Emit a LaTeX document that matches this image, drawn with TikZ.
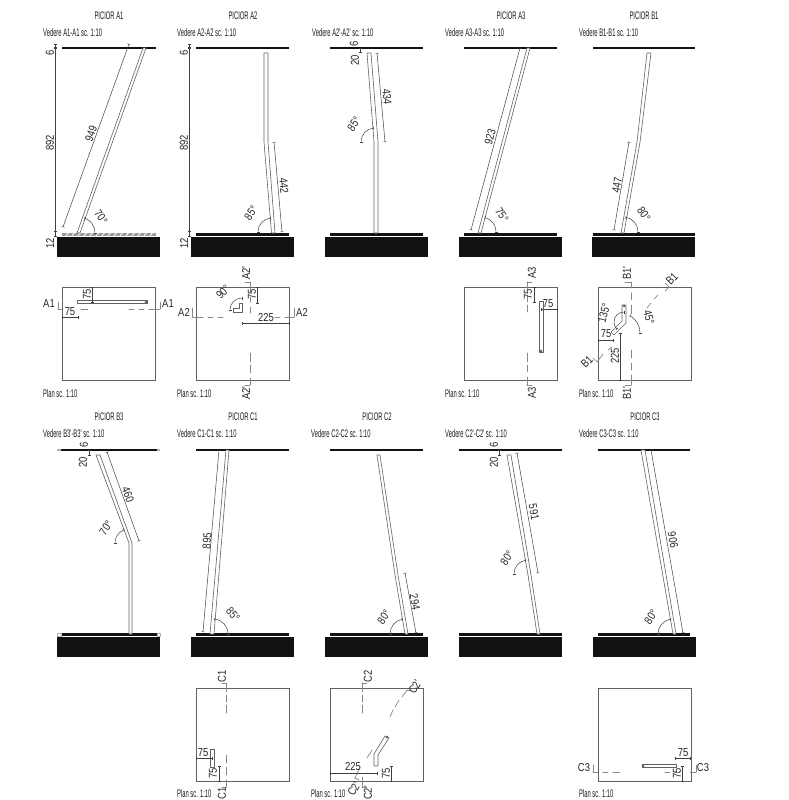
\documentclass[tikz,border=0pt]{standalone}
\usepackage{fontspec}
\setmainfont{Liberation Sans}
\newfontfamily\ingust[FakeStretch=0.53]{Liberation Sans}
\newfontfamily\cifre[FakeStretch=0.82]{Liberation Sans}
\definecolor{linie}{gray}{0.38}
\definecolor{cota}{gray}{0.25}
\usetikzlibrary{arrows.meta}
\begin{document}
\begin{tikzpicture}[x=1pt,y=-1pt,
		picior/.style={draw=linie,fill=white,line width=0.6pt,line join=round},
		cotare/.style={draw=cota,line width=0.5pt,{Bar[width=3pt,length=0pt]}-{Bar[width=3pt,length=0pt]}},
		unghi/.style={draw=cota,line width=0.5pt,{Bar[width=3pt,length=0pt]}-{Bar[width=3pt,length=0pt]}},
		semn/.style={draw=linie!75,line width=0.7pt},
		plan/.style={draw=linie,line width=0.8pt},
		cifra/.style={inner sep=0pt,font=\fontsize{11.5}{12}\selectfont\cifre,text=black!85},
		titlu/.style={inner sep=0pt,font=\fontsize{11}{12}\selectfont\ingust,text=black!90},
		vedere/.style={inner sep=0pt,anchor=west,font=\fontsize{11}{12}\selectfont\ingust,text=black!90},
	]
	\tikzset{soclu/.pic={
			\fill[black!93](0,0)rectangle(103,20);
	}}
	\useasboundingbox(0,0)rectangle(788,800);
	% soclu si bare
	\foreach \x/\y in{57/236.5,191/236.5,325/236.5,459/236.5,592/236.5,57/637,191/637,325/637,459/637,593/637}
	\path(\x,\y)pic{soclu};
	\foreach \x/\y/\l in{196/232.6/93,330/232.6/93,464/232.6/93,593/232.6/102,61/633.4/96,196/633.4/93,330/633.4/93,459/633.4/103,598/633.4/92}
	\fill[black!93](\x,\y)rectangle++(\l,2.9);
	\foreach \x/\y/\l in{62/47/94,196/47/93,330/47/93,464/47/93,593/47/102,61/449/96,196/449/93,330/449/93,459/449/103,598/449/92}
	\fill[black!93](\x,\y)rectangle++(\l,2.2);
	\fill[gray!60](57,449)rectangle(61,451)(157,449)rectangle(160,451);
	\fill[white,draw=gray!60](57,633)rectangle(61,636)(157,633)rectangle(160,636);
	% placa hasurata
	\fill[gray!80](62,232.6)rectangle(156,235.6);
	\foreach \x in{66,72,...,154}
	\draw[white,line width=0.9pt](\x,235.6)--++(3,-3);
	% titluri
	\foreach \x/\y/\txt in{109/16/PICIOR A1,243/16/PICIOR A2,511/16/PICIOR A3,644/16/PICIOR B1,109/417/PICIOR B3,243/417/PICIOR C1,377/417/PICIOR C2,645/417/PICIOR C3}
	\node[titlu] at(\x,\y){\txt};
	\foreach \x/\y/\txt in{43/33/Vedere A1-A1 sc. 1:10,177/33/Vedere A2-A2 sc. 1:10,312/33/Vedere A2'-A2' sc. 1:10,445/33/Vedere A3-A3 sc. 1:10,579/33/Vedere B1-B1 sc. 1:10,
		43/434/Vedere B3'-B3' sc. 1:10,177/434/Vedere C1-C1 sc. 1:10,311/434/Vedere C2-C2 sc. 1:10,445/434/Vedere C2'-C2' sc. 1:10,579/434/Vedere C3-C3 sc. 1:10,
		43/394/Plan sc. 1:10,177/394/Plan sc. 1:10,445/394/Plan sc. 1:10,579/394/Plan sc. 1:10,177/794/Plan sc. 1:10,311/794/Plan sc. 1:10,579/794/Plan sc. 1:10}
	\node[vedere] at(\x,\y){\txt};
	% picioare, vedere
	\draw[picior](77,233)--(143,48)--(146,48)--(80,233)--cycle;
	\draw[picior](264,53)--(268,53)--(268,142)--(275,233)--(271.5,233)--(264,142)--cycle;
	\draw[picior](367,53)--(371,53)--(378,142)--(378,233)--(374,233)--(374,142)--cycle;
	\draw[picior](478,233)--(527,48)--(530,48)--(481,233)--cycle;
	\draw[picior](647,53)--(651,53)--(640,142)--(624,233)--(621,233)--(637,142)--cycle;
	\draw[picior](96,455)--(100,455)--(132,543)--(132,634)--(129,634)--(129,543)--cycle;
	\draw[picior](210,634)--(226,450)--(229,450)--(214,634)--cycle;
	\draw[picior](377,455)--(380,455)--(398,575)--(408,634)--(405,634)--(395,575)--cycle;
	\draw[picior](507,455)--(511,455)--(531,575)--(540,634)--(537,634)--(528,575)--cycle;
	\draw[picior](641,450)--(645,450)--(676,634)--(673,634)--cycle;
	% cote, vedere
	\draw[cotare](63,227)--(129,44);
	\draw[cotare](274,142)--(282,232);
	\draw[cotare](377,53)--(385,142);
	\draw[cotare](471,230)--(520,48);
	\draw[cotare](614,230)--(629,142);
	\draw[cotare](107,452)--(139,541);
	\draw[cotare](203,632)--(219,450);
	\draw[cotare](405,573)--(416,633);
	\draw[cotare](517,453)--(538,573);
	\draw[cotare](651,450)--(683,633);
	\foreach \x in{55,189}{
		\draw[cotare](\x,44)--(\x,48);
		\draw[cotare](\x,48)--(\x,231);
		\draw[cotare](\x,231)--(\x,236);
	}
	\foreach \x/\y in{360/48,89/450,499/450}
	\draw[cotare](\x,\y)--++(0,5);
	% unghiuri
	\draw[unghi](95,233)arc(0:-70:16);
	\draw[unghi](258,232)arc(-180:-95:14);
	\draw[unghi](361,142)arc(-180:-95:14);
	\draw[unghi](496,232)arc(0:-75:15);
	\draw[unghi](638,232)arc(0:-80:15);
	\draw[unghi](115,543)arc(-180:-110:14);
	\draw[unghi](228,634)arc(0:-85:15);
	\draw[unghi](390,634)arc(-180:-100:15);
	\draw[unghi](514,574)arc(-180:-100:14);
	\draw[unghi](658,634)arc(-180:-100:15);
	% cifre, vedere
	\foreach \x/\y/\rot/\txt in{50/53/90/6,50/143/90/892,50/243/90/12,91/134/70/949,101/217/-55/70°,
		184/53/90/6,184/143/90/892,184/243/90/12,284/186/-85/442,251/213/55/85°,
		354/44/90/6,355/60/90/20,387/97/-85/434,354/124/55/85°,
		490/137/75/923,502/215/-55/75°,617/185/80/447,644/214/-55/80°,
		84/445/90/6,83/462/90/20,128/495/-70/460,106/528/55/70°,
		207/541/85/895,233/614/-50/85°,415/602/-80/294,384/617/55/80°,
		494/445/90/6,494/462/90/20,534/512/-80/591,507/558/55/80°,
		673/540/-80/906,651/617/55/80°}
	\node[cifra,rotate=\rot] at(\x,\y){\txt};
	% planuri
	\foreach \x/\y in{62/287,196/287,464/287,598/287,196/688,330/688,598/688}
	\draw[plan](\x,\y)rectangle++(93,93);
	% picioare, plan
	\draw[picior](77,300.5)rectangle(147,303.5);
	\fill[linie](146,302)circle(1.5);
	\draw[picior](239,303)--(242.5,303)--(242.5,312)--(233,312)--(233,308.5)--(239,308.5)--cycle;
	\draw[picior](539,301)rectangle(543,352);
	\fill[linie](541,351)circle(1.5);
	\draw[picior](622,305)--(626,305)--(626,323)--(614,335)--(611,332)--(622,321)--cycle;
	\fill[linie](624,306)circle(1.5);
	\draw[picior](210,749)rectangle(214,767);
	\draw[picior](374,766)--(378,766)--(378,755)--(389,738)--(385,736)--(374,754)--cycle;
	\fill[linie](387,737)circle(1.5);
	\draw[picior](642,764.5)rectangle(676,767.5);
	\fill[linie](643,766)circle(1.5);
	% sectiuni
	\foreach \a/\b/\c/\d in{58/302/58/309,58/309/62/309,81/309/88/309,129/309/134/309,139/309/144/309,149/309/160/309,160/309/160/302,
		192/308/192/317,192/317/203/317,208/317/213/317,218/317/223/317,275/317/280/317,285/317/294/317,294/317/294/308,
		245/282/250/282,250/282/250/292,250/297/250/302,250/307/250/313,250/353/250/362,250/365/250/373,250/378/250/385,250/385/245/385,
		532/282/527/282,527/282/527/290,527/295/527/302,527/305/527/312,527/353/527/362,527/365/527/372,527/377/527/385,527/385/532/385,
		625/282/631/282,631/282/631/288,631/293/631/300,631/305/631/314,631/350/631/358,631/363/631/370,631/375/631/385,631/385/625/385,
		665/283/669/287,669/287/665/291,658/295/654/299,651/303/647/308,593/358/597/362,597/362/603/354,608/350/612/347,
		222/683/226/683,226/683/226/692,226/695/226/702,226/705/226/713,226/755/226/763,226/767/226/775,226/780/226/787,226/787/222/787,
		367/683/362/683,362/683/362/692,362/695/362/702,362/705/362/713,362/777/362/787,362/787/367/787,
		411/690/407/690,407/690/402/697,399/700/395/707,393/710/390/717,372/750/367/758,360/767/355/778,355/778/359/780,
		593/765/593/772,593/772/598/772,603/772/608/772,613/772/620/772,665/772/670/772,675/772/680/772,690/772/696/772,696/772/696/765}
	\draw[semn,line cap=round](\a,\b)--(\c,\d);
	% cote, plan
	\draw[cotare](92,287)--(92,302);
	\draw[cotare](62,317)--(78,317);
	\draw[cotare](257,287)--(257,303);
	\draw[cotare](242,323)--(289,323);
	\draw[cotare](534,287)--(534,302);
	\draw[cotare](541,309)--(557,309);
	\draw[cotare](598,340)--(613,340);
	\draw[cotare](620,333)--(620,380);
	\draw[cotare](196,758)--(212,758);
	\draw[cotare](219,766)--(219,781);
	\draw[cotare](330,773)--(377,773);
	\draw[cotare](391,766)--(391,781);
	\draw[cotare](675,758)--(690,758);
	\draw[cotare](682,766)--(682,781);
	\draw[unghi](230,310)arc(-180:-90:12);
	\draw[unghi](624,312)arc(-90:-225:10);
	\draw[unghi](640,333)arc(0:-60:20);
	% cifre, plan
	\foreach \x/\y/\rot/\txt in{49/304/0/A1,168/304/0/A1,87/294/90/75,70/312/0/75,
		184/312/0/A2,302/312/0/A2,246/273/90/A2',246/393/90/A2',252/294/90/75,266/318/0/225,223/292/45/90°,
		532/273/90/A3,532/393/90/A3,528/294/90/75,548/304/0/75,
		627/273/90/B1',627/393/90/B1',672/279/45/B1,587/362/45/B1,604/313/75/135°,649/317/-75/45°,606/334/0/75,615/356/90/225,
		222/676/90/C1,222/793/90/C1,203/753/0/75,213/773/90/75,
		368/676/90/C2,368/793/90/C2',415/687/60/C2',354/789/60/C2',353/767/0/225,386/773/90/75,
		584/768/0/C3,703/768/0/C3,683/753/0/75,677/773/90/75}
	\node[cifra,rotate=\rot] at(\x,\y){\txt};
\end{tikzpicture}
\end{document}
